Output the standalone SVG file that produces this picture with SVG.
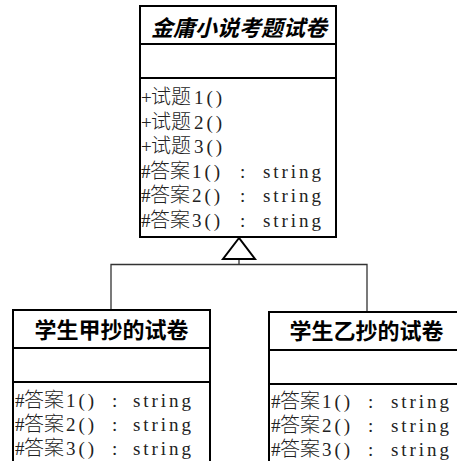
<svg xmlns="http://www.w3.org/2000/svg" width="457" height="461" viewBox="0 0 457 461">
<style>
.box{fill:#fff;stroke:#000;stroke-width:2}
.div{stroke:#000;stroke-width:2}
.conn{fill:none;stroke:#333;stroke-width:1.3}
.tri{fill:#fff;stroke:#000;stroke-width:2;stroke-linejoin:miter}
.title{font-family:"Noto Sans CJK SC",sans-serif;font-size:22px;font-weight:bold;fill:#000;text-anchor:middle}
.it{font-style:italic}
.m{font-family:"Liberation Serif",serif;font-size:19px;fill:#222}
.c{font-family:"Noto Sans CJK SC",sans-serif;font-size:20px;font-weight:300}
</style>
<rect width="457" height="461" fill="#fff"/>
<g id="connectors">
<polyline class="conn" points="111,310 111,264.5 367,264.5 367,312"/>
<line class="conn" x1="239" y1="259" x2="239" y2="264.5"/>
<polygon class="tri" points="239,238 223,259 255,259"/>
</g>
<g id="exam">
<rect class="box" x="140" y="6" width="196" height="231"/>
<line class="div" x1="140" y1="44" x2="336" y2="44"/>
<line class="div" x1="140" y1="78" x2="336" y2="78"/>
<text class="title it" x="239" y="35.5">金庸小说考题试卷</text>
<text class="m" y="104"><tspan x="141">+</tspan><tspan class="c" x="151">试题</tspan><tspan x="194" textLength="28" lengthAdjust="spacing">1()</tspan></text>
<text class="m" y="128.5"><tspan x="141">+</tspan><tspan class="c" x="151">试题</tspan><tspan x="194" textLength="28" lengthAdjust="spacing">2()</tspan></text>
<text class="m" y="153"><tspan x="141">+</tspan><tspan class="c" x="151">试题</tspan><tspan x="194" textLength="28" lengthAdjust="spacing">3()</tspan></text>
<text class="m" y="177.5"><tspan x="141">#</tspan><tspan class="c" x="150">答案</tspan><tspan x="192" textLength="28" lengthAdjust="spacing">1()</tspan><tspan x="240">:</tspan><tspan x="263" textLength="58" lengthAdjust="spacing">string</tspan></text>
<text class="m" y="202"><tspan x="141">#</tspan><tspan class="c" x="150">答案</tspan><tspan x="192" textLength="28" lengthAdjust="spacing">2()</tspan><tspan x="240">:</tspan><tspan x="263" textLength="58" lengthAdjust="spacing">string</tspan></text>
<text class="m" y="226.5"><tspan x="141">#</tspan><tspan class="c" x="150">答案</tspan><tspan x="192" textLength="28" lengthAdjust="spacing">3()</tspan><tspan x="240">:</tspan><tspan x="263" textLength="58" lengthAdjust="spacing">string</tspan></text>
</g>
<g id="studentA">
<rect class="box" x="13" y="310" width="197" height="160"/>
<line class="div" x1="13" y1="348" x2="210" y2="348"/>
<line class="div" x1="13" y1="382" x2="210" y2="382"/>
<text class="title" x="111.5" y="337.5">学生甲抄的试卷</text>
<text class="m" y="407"><tspan x="15">#</tspan><tspan class="c" x="24">答案</tspan><tspan x="66" textLength="28" lengthAdjust="spacing">1()</tspan><tspan x="112">:</tspan><tspan x="133" textLength="58" lengthAdjust="spacing">string</tspan></text>
<text class="m" y="431"><tspan x="15">#</tspan><tspan class="c" x="24">答案</tspan><tspan x="66" textLength="28" lengthAdjust="spacing">2()</tspan><tspan x="112">:</tspan><tspan x="133" textLength="58" lengthAdjust="spacing">string</tspan></text>
<text class="m" y="455"><tspan x="15">#</tspan><tspan class="c" x="24">答案</tspan><tspan x="66" textLength="28" lengthAdjust="spacing">3()</tspan><tspan x="112">:</tspan><tspan x="133" textLength="58" lengthAdjust="spacing">string</tspan></text>
</g>
<g id="studentB">
<rect class="box" x="269" y="312" width="200" height="160"/>
<line class="div" x1="269" y1="350" x2="460" y2="350"/>
<line class="div" x1="269" y1="384" x2="460" y2="384"/>
<text class="title" x="366.5" y="338.5">学生乙抄的试卷</text>
<text class="m" y="408"><tspan x="271">#</tspan><tspan class="c" x="280">答案</tspan><tspan x="322" textLength="28" lengthAdjust="spacing">1()</tspan><tspan x="368">:</tspan><tspan x="391" textLength="58" lengthAdjust="spacing">string</tspan></text>
<text class="m" y="432"><tspan x="271">#</tspan><tspan class="c" x="280">答案</tspan><tspan x="322" textLength="28" lengthAdjust="spacing">2()</tspan><tspan x="368">:</tspan><tspan x="391" textLength="58" lengthAdjust="spacing">string</tspan></text>
<text class="m" y="456"><tspan x="271">#</tspan><tspan class="c" x="280">答案</tspan><tspan x="322" textLength="28" lengthAdjust="spacing">3()</tspan><tspan x="368">:</tspan><tspan x="391" textLength="58" lengthAdjust="spacing">string</tspan></text>
</g>
</svg>
